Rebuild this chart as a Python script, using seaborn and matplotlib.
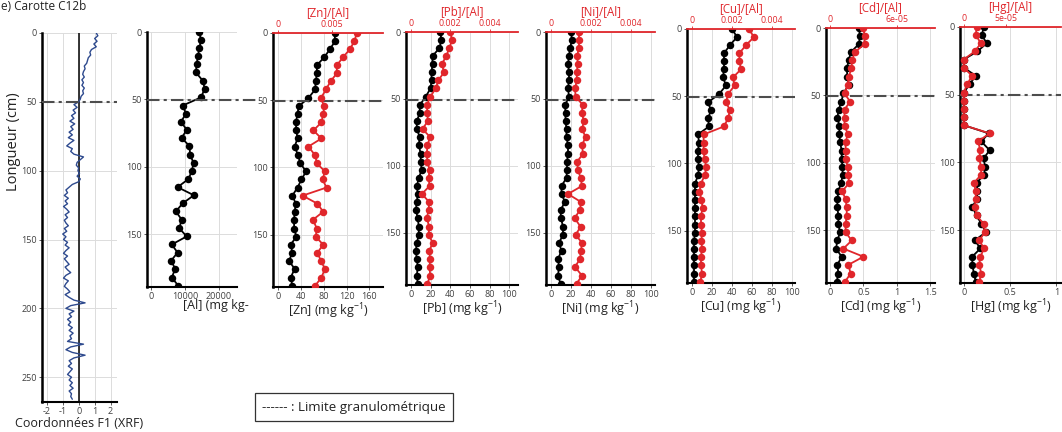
import matplotlib
matplotlib.use("Agg")
import matplotlib.pyplot as plt
import seaborn as sns
import numpy as np
import pandas as pd

# ---------------- data ----------------
xrf_depth = [0, 2, 4, 6, 8, 10, 12, 14, 16, 18, 20, 22, 24, 26, 28, 30, 32, 34, 36, 38, 40, 42, 44, 46, 48,
             50, 52, 54, 56, 58, 60, 62, 64, 66, 68, 70, 72, 74, 76, 78, 80, 82, 84, 86, 88, 90, 92, 94, 96, 98,
             100, 102, 104, 106, 108, 110, 112, 114, 116, 118, 120, 122, 124, 126, 128, 130, 132, 134, 136, 138,
             140, 142, 144, 146, 148, 150, 152, 154, 156, 158, 160, 162, 164, 166, 168, 170, 172, 174, 176, 178,
             180, 182, 184, 186, 188, 190, 192, 194, 196, 198, 200, 202, 204, 206, 208, 210, 212, 214, 216, 218,
             220, 222, 224, 226, 228, 230, 232, 234, 236, 238, 240, 242, 244, 246, 248, 250, 252, 254, 256, 258,
             260, 262, 264, 266]
xrf_f1 = [1.1, 1.2, 1.0, 1.15, 0.95, 1.1,
          0.8, 0.7, 0.75, 0.6, 0.55, 0.5,
          0.35, 0.4, 0.3, 0.25, 0.35, 0.2,
          0.3, 0.2, 0.35, 0.25, 0.3, 0.15, 0.1,
          0.0, -0.3, -0.1, -0.35, -0.2, -0.45,
          -0.3, -0.55, -0.25, -0.5, -0.35, -0.6,
          -0.4, -0.65, -0.3, -0.55, -0.75, -0.4, -0.5,
          -0.3, 0.3, 0.1, -0.1, -0.15, 0.0,
          -0.05, 0.05, -0.1, 0.1, 0.0, -0.4,
          -0.6, -0.8, -0.7, -0.9, -0.65, -0.85, -0.7,
          -0.95, -0.75, -0.6, -0.85, -0.7, -0.9, -0.8,
          -0.65, -0.9, -0.75, -1.0, -0.8, -0.95, -0.7,
          -0.85, -0.6, -0.8, -0.95, -0.7, -0.9, -0.75,
          -0.6, -0.85, -0.7, -0.5, -0.8, -0.95, -0.65,
          -0.8, -0.9, -0.7, -0.55, -0.85, -0.6, -0.3,
          0.4, -0.5, -0.8, -0.3, -0.6, -0.45, -0.7,
          -0.5, -0.65, -0.4, -0.6, -0.35, -0.55, -0.45,
          -0.7, 0.3, -0.5, -0.8, -0.4, 0.4, -0.3,
          -0.6, -0.45, -0.65, -0.4, -0.55, -0.7, -0.45,
          -0.6, -0.4, -0.55, -0.35, -0.6, -0.45, -0.5, -0.4]

sample_depth = [0, 6, 12, 18, 24, 30, 36, 42, 48.5, 54.5, 60.5, 66.5, 72.5, 78.5, 84.5, 91,
                97, 103, 109, 115, 121, 127, 133, 139, 145.5, 151.5, 157.5, 163.5, 169.5, 175.5, 182, 188]

al = [14200, 14700, 14200, 13800, 13400, 13200, 15200, 15800, 14700, 9300, 10300, 8800, 10500, 9000, 11300, 11500,
      12500, 12000, 11000, 7800, 12600, 9300, 7300, 9000, 8300, 10500, 6100, 7800, 5900, 7100, 6100, 8000]

zn = [99, 100, 91, 81, 68, 68, 66, 65, 53, 36, 34, 31, 32, 34, 29, 35,
      39, 49, 41, 34, 25, 31, 29, 28, 28, 32, 22, 25, 19, 29, 22, 25]
zn_al = [0.00726, 0.00705, 0.00663, 0.0060, 0.00542, 0.00542, 0.00484, 0.00442, 0.00395, 0.00426, 0.00416,
         0.0040, 0.00326, 0.0040, 0.00279, 0.00342, 0.00358, 0.00432, 0.0041, 0.00447, 0.00226, 0.00363,
         0.00416, 0.00321, 0.00358, 0.00347, 0.00416, 0.00363, 0.00395, 0.00432, 0.0040, 0.00342]

pb = [30, 31, 29, 22, 22, 21, 21, 20, 15, 9, 9, 6, 6, 9, 8, 10,
      10, 11, 8, 6, 7, 6, 5, 7, 8, 8, 6, 5, 6, 7, 6, 7]
pb_al = [0.0020, 0.0021, 0.00195, 0.0018, 0.00157, 0.00169, 0.0014, 0.00127, 0.00098, 0.00081, 0.00084,
         0.00086, 0.00059, 0.00098, 0.00084, 0.00081, 0.00084, 0.00095, 0.0009, 0.00095, 0.00056, 0.00093,
         0.0009, 0.00081, 0.00093, 0.0009, 0.00111, 0.00093, 0.00098, 0.00095, 0.00098, 0.00084]

ni = [20, 21, 19, 18, 17, 18, 18, 17, 18, 14, 14.5, 14.5, 15.5, 15.5, 17, 17,
      16, 16, 15.5, 10.5, 10.5, 14, 9.5, 10, 12, 12, 8, 10.5, 7, 8, 7, 9.5]
ni_al = [0.0014, 0.0014, 0.0014, 0.0013, 0.00135, 0.00128, 0.0013, 0.0012, 0.00123, 0.0016, 0.00153,
         0.00165, 0.00155, 0.00173, 0.00155, 0.0016, 0.0013, 0.00135, 0.00148, 0.00155, 0.00085, 0.0015,
         0.00145, 0.00118, 0.00148, 0.00123, 0.00155, 0.0015, 0.00145, 0.0012, 0.00155, 0.00128]

cu = [40, 45, 38, 32, 32, 32, 31, 34, 27, 16, 19, 16, 17, 6, 7, 6,
      6, 7, 6, 3, 3, 3, 3, 3, 3, 3, 2, 2, 2, 2, 2, 2]
cu_al = [0.00283, 0.0031, 0.0027, 0.00237, 0.00237, 0.00245, 0.00205, 0.00213, 0.0018, 0.0017, 0.0019,
         0.0018, 0.0016, 0.00058, 0.00058, 0.00058, 0.00063, 0.00072, 0.00063, 0.00045, 0.00037, 0.00047,
         0.00053, 0.00045, 0.00045, 0.0005, 0.00047, 0.0005, 0.00045, 0.00045, 0.0005, 0.00042]

cd = [0.43, 0.45, 0.43, 0.31, 0.28, 0.25, 0.26, 0.28, 0.2, 0.17, 0.13, 0.11, 0.14, 0.14, 0.15, 0.175,
      0.175, 0.185, 0.19, 0.165, 0.125, 0.11, 0.11, 0.125, 0.125, 0.15, 0.11, 0.09, 0.175, 0.11, 0.125, 0.1]
cd_al = [3.0e-5, 3.1e-5, 3.1e-5, 2.2e-5, 2.0e-5, 1.9e-5, 1.7e-5, 1.6e-5, 1.3e-5, 1.8e-5, 1.3e-5, 1.3e-5,
         1.3e-5, 1.6e-5, 1.4e-5, 1.4e-5, 1.4e-5, 1.6e-5, 1.65e-5, 1.7e-5, 1.1e-5, 1.4e-5, 1.5e-5, 1.5e-5,
         1.4e-5, 1.4e-5, 1.95e-5, 1.2e-5, 3.0e-5, 1.65e-5, 1.85e-5, 1.35e-5]

hg = [0.215, 0.196, 0.248, 0.148, 0.0, 0.0, 0.13, 0.067, 0.0, 0.0, 0.0, 0.0, 0.0, 0.27, 0.19, 0.28,
      0.215, 0.23, 0.22, 0.14, 0.148, 0.14, 0.093, 0.14, 0.19, 0.24, 0.12, 0.18, 0.093, 0.093, 0.11, 0.13]
hg_al = [1.54e-5, 1.43e-5, 2.04e-5, 1.32e-5, 0.0, 0.0, 0.99e-5, 0.44e-5, 0.0, 0.0, 0.0, 0.0, 0.0, 3.08e-5,
         1.7e-5, 1.98e-5, 1.84e-5, 2.04e-5, 2.09e-5, 1.21e-5, 1.43e-5, 1.43e-5, 1.32e-5, 1.54e-5, 2.37e-5,
         2.53e-5, 1.84e-5, 2.42e-5, 1.98e-5, 1.84e-5, 2.09e-5, 1.84e-5]

grain_limit_depth = 50.5

xrf_xticks = [-2, -1, 0, 1, 2]
xrf_yticks = [0, 50, 100, 150, 200, 250]
core_yticks = [0, 50, 100, 150]
al_xticks = [0, 10000, 20000]
zn_xticks = [0, 40, 80, 120, 160]
pct_xticks = [0, 20, 40, 60, 80, 100]
cd_xticks = [0, 0.5, 1, 1.5]
cd_xticklabels = ["0", "0.5", "1", "1.5"]
hg_xticks = [0, 0.5, 1]
hg_xticklabels = ["0", "0.5", "1"]
zn_top_ticks, zn_top_labels = [0, 0.005], ["0", "0.005"]
ratio_top_ticks, ratio_top_labels = [0, 0.002, 0.004], ["0", "0.002", "0.004"]
cd_top_ticks, cd_top_labels = [0, 6e-05], ["0", "6e-05"]
hg_top_ticks, hg_top_labels = [0, 5e-05], ["0", "5e-05"]

# ---------------- style ----------------
sns.set_theme(style="white")
plt.rcParams["font.family"] = ["Open Sans", "DejaVu Sans"]
plt.rcParams["mathtext.fontset"] = "custom"
plt.rcParams["mathtext.rm"] = "Open Sans"
plt.rcParams["mathtext.it"] = "Open Sans:italic"
plt.rcParams["mathtext.bf"] = "Open Sans:bold"
plt.rcParams["axes.unicode_minus"] = False

RED = "#E0262B"
BLUE = "#2E4A8E"
TICKC = "#404040"
TEXTC = "#222222"
GRIDC = "#dcdcdc"
DASH = (0, (6, 2, 1.5, 2))

W, H = 1062, 432
fig = plt.figure(figsize=(W / 100, H / 100), dpi=100)
fig.patch.set_facecolor("white")


def add_ax(l, r, t, b):
    return fig.add_axes([l / W, 1 - b / H, (r - l) / W, (b - t) / H])


def base_style(ax, yticks):
    for s in ["top", "right"]:
        ax.spines[s].set_visible(False)
    ax.spines["left"].set_color("black")
    ax.spines["left"].set_linewidth(1.8)
    ax.spines["bottom"].set_color("black")
    ax.spines["bottom"].set_linewidth(1.5)
    ax.set_yticks(yticks)
    ax.tick_params(axis="both", labelsize=6.5, colors=TICKC, length=2, pad=1.5, width=0.6)
    ax.tick_params(axis="both", which="both", left=True, bottom=True)
    ax.grid(True, color=GRIDC, lw=0.7)
    ax.set_axisbelow(True)
    ax.set_facecolor("white")
    ax.set_ylabel("")


def line(ax, x, y, color, marker=True, lw=1.3):
    kw = dict(marker="o", markersize=5.4, markeredgewidth=0, markerfacecolor=color) if marker else {}
    sns.lineplot(x=x, y=y, orient="y", sort=False, estimator=None, color=color, lw=lw, ax=ax, **kw)


# ---------------- XRF panel ----------------
ax0 = add_ax(42, 117, 33, 402)
line(ax0, xrf_f1, xrf_depth, BLUE, marker=False, lw=1.0)
ax0.set_xlim(-2.3, 2.4)
ax0.set_ylim(268, 0)
base_style(ax0, xrf_yticks)
ax0.set_xticks(xrf_xticks)
ax0.axvline(0, color="black", lw=1.1, zorder=1.5)
ax0.axhline(grain_limit_depth - 0.5, color="#4d4d4d", lw=1.5, ls=DASH, zorder=3)
ax0.set_xlabel("Coordonnées F1 (XRF)", fontsize=9, color=TEXTC, labelpad=1)
fig.text(14 / W, 1 - 142 / H, "Longueur (cm)", rotation=90, ha="center", va="center", fontsize=10.5, color=TEXTC)
fig.text(1 / W, 1 - 10 / H, "e) Carotte C12b", ha="left", va="baseline", fontsize=8.5, color=TEXTC)

# ---------------- Al panel ----------------
ax1 = add_ax(147, 237, 32, 287)
line(ax1, al, sample_depth, "black")
ax1.set_xlim(-1200, 25300)
ax1.set_ylim(189, 0)
base_style(ax1, core_yticks)
ax1.set_xticks(al_xticks)
ax1.set_xlabel("")
ax1.axhline(grain_limit_depth, xmin=0, xmax=1.25, color="#4d4d4d", lw=1.5, ls=DASH, zorder=3, clip_on=False)
fig.text(183 / W, 1 - 306 / H, "[Al] (mg kg-", ha="left", va="center", fontsize=9, color=TEXTC)


# ---------------- ratio panels ----------------
def ratio_panel(box, conc, ratio, xlim, xticks, xticklabels, factor, rticks, rlabels, xlabel, title):
    l, r, t, b = box
    ax = add_ax(l, r, t, b)
    line(ax, conc, sample_depth, "black")
    ax.set_xlim(xlim)
    ax.set_ylim(189, 0)
    base_style(ax, core_yticks)
    ax.set_xticks(xticks)
    if xticklabels is not None:
        ax.set_xticklabels(xticklabels)
    ax.set_xlabel(xlabel, fontsize=9, color=TEXTC, labelpad=0.5)
    ax.axhline(grain_limit_depth, color="#4d4d4d", lw=1.5, ls=DASH, zorder=3)

    axt = ax.twiny()
    line(axt, ratio, sample_depth, RED)
    axt.set_xlim(xlim[0] * factor, xlim[1] * factor)
    axt.set_ylim(189, 0)
    for s in ["bottom", "left", "right"]:
        axt.spines[s].set_visible(False)
    axt.spines["top"].set_color(RED)
    axt.spines["top"].set_linewidth(1.3)
    axt.set_xticks(rticks)
    axt.set_xticklabels(rlabels)
    axt.tick_params(axis="x", labelsize=6.3, colors=RED, length=2, pad=1, width=0.6, top=True)
    axt.set_xlabel("")
    axt.set_ylabel("")
    axt.grid(False)
    fig.text((l + r) / 2 / W, 1 - (t - 20) / H, title, ha="center", va="center", fontsize=8.3, color=RED)
    return ax


ratio_panel((273, 383, 33, 287), zn, zn_al, (-9, 184), zn_xticks, None, 0.005 / 95,
            zn_top_ticks, zn_top_labels, "[Zn] (mg kg$^{-1}$)", "[Zn]/[Al]")
ratio_panel((406, 518, 32, 285), pb, pb_al, (-5, 109), pct_xticks, None, 5e-5,
            ratio_top_ticks, ratio_top_labels, "[Pb] (mg kg$^{-1}$)", "[Pb]/[Al]")
ratio_panel((546, 655, 32, 285), ni, ni_al, (-5, 104), pct_xticks, None, 5e-5,
            ratio_top_ticks, ratio_top_labels, "[Ni] (mg kg$^{-1}$)", "[Ni]/[Al]")
ratio_panel((687, 795, 29, 283), cu, cu_al, (-5, 103), pct_xticks, None, 5e-5,
            ratio_top_ticks, ratio_top_labels, "[Cu] (mg kg$^{-1}$)", "[Cu]/[Al]")
ratio_panel((826, 935, 28, 283), cd, cd_al, (-0.06, 1.57), cd_xticks, cd_xticklabels, 6e-5,
            cd_top_ticks, cd_top_labels, "[Cd] (mg kg$^{-1}$)", "[Cd]/[Al]")
ratio_panel((960, 1061, 27, 283), hg, hg_al, (-0.04, 1.05), hg_xticks, hg_xticklabels, 1.1e-4,
            hg_top_ticks, hg_top_labels, "[Hg] (mg kg$^{-1}$)", "[Hg]/[Al]")

# ---------------- legend box ----------------
fig.text(262 / W, 1 - 407 / H, "------ : Limite granulométrique", ha="left", va="center", fontsize=9.6,
         color=TEXTC,
         bbox=dict(boxstyle="square,pad=0.55", facecolor="white", edgecolor="#333333", linewidth=0.9))

fig.savefig("out.png", dpi=100, facecolor="white")
